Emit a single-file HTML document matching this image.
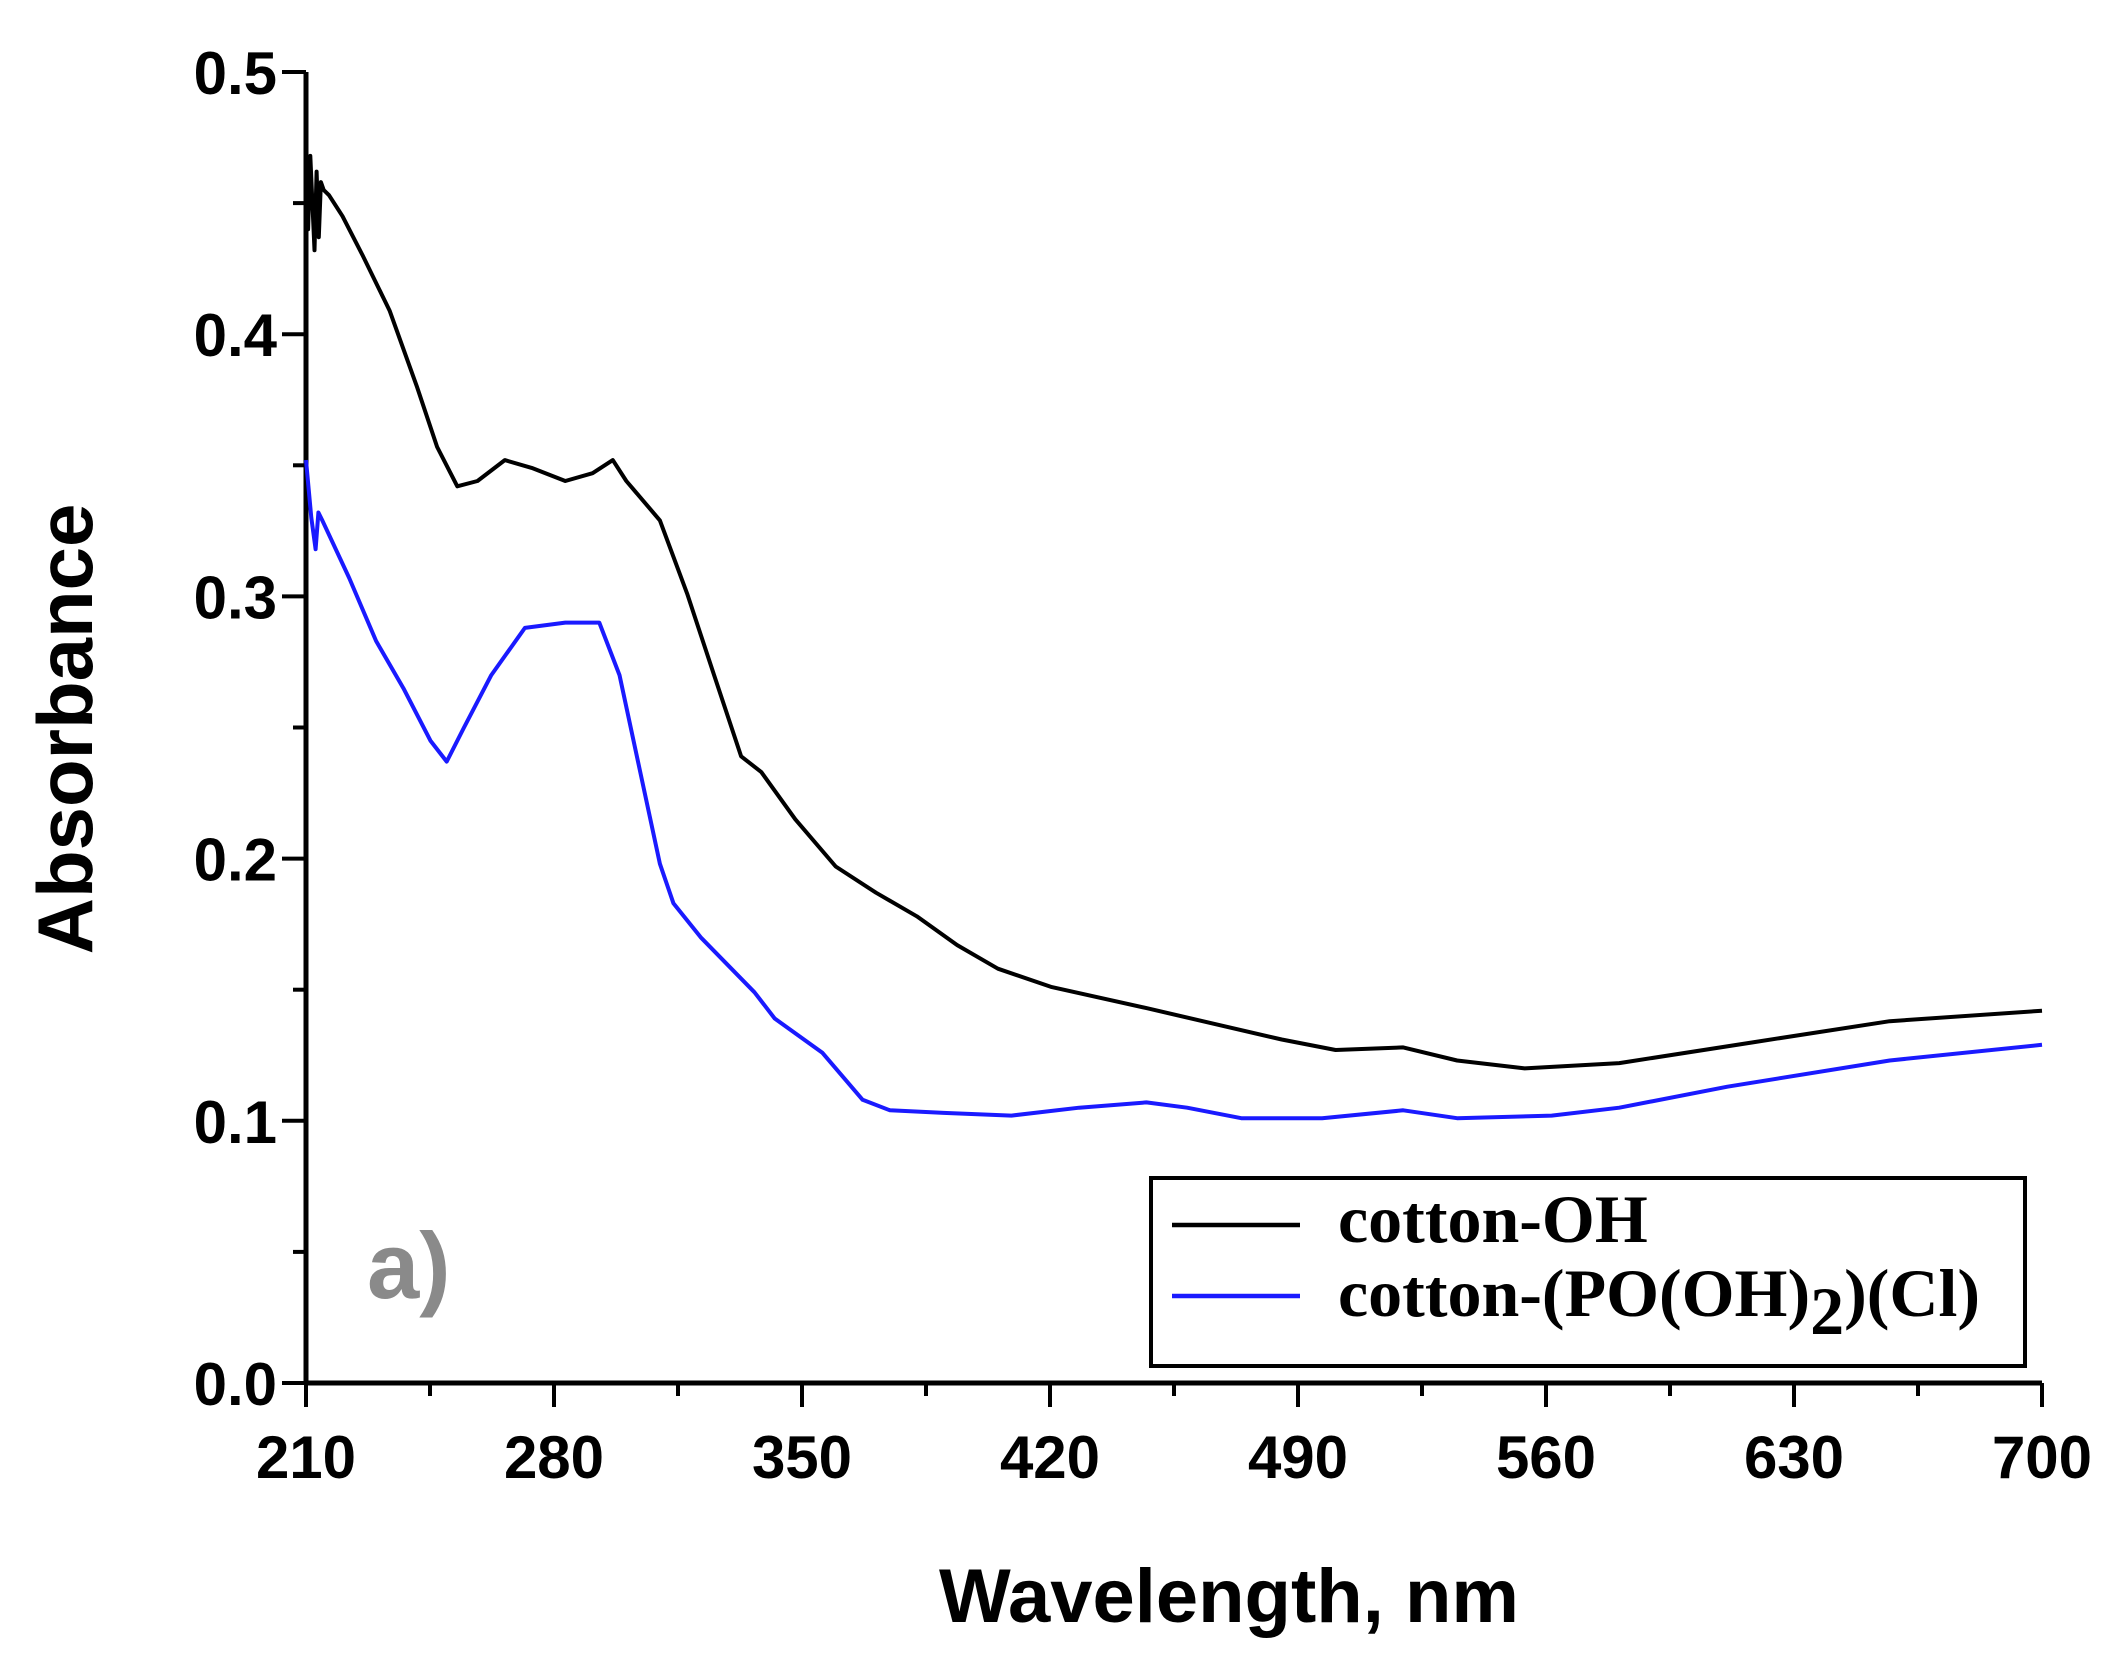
<!DOCTYPE html>
<html><head><meta charset="utf-8"><style>
body{margin:0;background:#fff;}
svg{display:block;}
</style></head><body>
<svg id="chart" width="2117" height="1666" xmlns="http://www.w3.org/2000/svg">
<g id="axes"></g>
<g id="series"></g>
<text transform="translate(92,729) rotate(-90)" text-anchor="middle" font-family="Liberation Sans, sans-serif" font-weight="bold" font-size="78">Absorbance</text>
<text x="1229" y="1622" text-anchor="middle" font-family="Liberation Sans, sans-serif" font-weight="bold" font-size="76">Wavelength, nm</text>
<text x="367" y="1298" font-family="Liberation Sans, sans-serif" font-weight="bold" font-size="94" fill="#8a8a8a">a)</text>
<g>
<rect x="1151" y="1178" width="874" height="188" fill="#fff" stroke="#000" stroke-width="4"/>
<line x1="1172" y1="1225" x2="1300" y2="1225" stroke="#000" stroke-width="4.5"/>
<text x="1338" y="1242" font-family="Liberation Serif, serif" font-weight="bold" font-size="68">cotton-OH</text>
<line x1="1172" y1="1296" x2="1300" y2="1296" stroke="#1a1aff" stroke-width="4.5"/>
<text x="1338" y="1316" font-family="Liberation Serif, serif" font-weight="bold" font-size="68">cotton-(PO(OH)<tspan dy="18">2</tspan><tspan dy="-18">)(Cl)</tspan></text>
</g>
</svg>
<script>
const xTicks=[210,280,350,420,490,560,630,700];
const yTicks=[0.0,0.1,0.2,0.3,0.4,0.5];
const blackNm=[210,210.6,211.2,211.8,212.4,213,213.6,214.2,215,216.5,220.3,226,233.6,241.3,247,252.7,258.4,266.1,273.7,283.2,290.9,296.6,300.4,309.9,317.6,325.2,332.8,338.5,348.1,359.5,370.9,382.4,393.8,405.3,420.5,447.2,466.3,485.4,500.6,519.7,534.9,554,580.7,618.8,657,700];
const blackAbs=[0.47,0.44,0.468,0.45,0.432,0.462,0.437,0.458,0.455,0.453,0.445,0.43,0.409,0.38,0.357,0.342,0.344,0.352,0.349,0.344,0.347,0.352,0.344,0.329,0.301,0.27,0.239,0.233,0.215,0.197,0.187,0.178,0.167,0.158,0.151,0.143,0.137,0.131,0.127,0.128,0.123,0.12,0.122,0.13,0.138,0.142];
const blueNm=[210,211.5,212.7,213.5,214.6,222.2,229.8,237.5,245.1,249.7,254.6,262.3,271.8,283.2,292.8,298.5,304.2,309.9,313.7,321.4,336.6,342.3,355.7,367.1,374.8,390,409.1,428.2,447.2,458.7,474,496.8,519.7,534.9,561.6,580.7,611.2,657,700];
const blueAbs=[0.352,0.33,0.318,0.332,0.329,0.307,0.283,0.265,0.245,0.237,0.25,0.27,0.288,0.29,0.29,0.27,0.234,0.198,0.183,0.17,0.149,0.139,0.126,0.108,0.104,0.103,0.102,0.105,0.107,0.105,0.101,0.101,0.104,0.101,0.102,0.105,0.113,0.123,0.129];

const X0=306,X1=2042,Y0=1383,Y1=72;
const sx=v=>X0+(v-210)/(700-210)*(X1-X0);
const sy=v=>Y0-(v-0)/(0.5-0)*(Y0-Y1);
const NS='http://www.w3.org/2000/svg';
const axes=document.getElementById('axes');
const series=document.getElementById('series');
function mk(tag,attrs,parent){const e=document.createElementNS(NS,tag);for(const k in attrs)e.setAttribute(k,attrs[k]);parent.appendChild(e);return e;}

let l=mk('line',{x1:X0,y1:Y0,x2:X1,y2:Y0,stroke:'#000','stroke-width':5},axes);


l=mk('line',{x1:X0,y1:Y0+2,x2:X0,y2:Y1,stroke:'#000','stroke-width':5},axes);



xTicks.forEach((t,i)=>{
  const x=sx(t);
  let tk=mk('line',{x1:x,y1:Y0,x2:x,y2:Y0+24,stroke:'#000','stroke-width':4},axes);
  
  
  let tx=mk('text',{x:x,y:1478,'text-anchor':'middle','font-family':'Liberation Sans, sans-serif','font-weight':'bold','font-size':60},axes);
  tx.textContent=t;
  
  
  if(i<xTicks.length-1){
    const mx=sx(t+35);
    let mt=mk('line',{x1:mx,y1:Y0,x2:mx,y2:Y0+13,stroke:'#000','stroke-width':4},axes);
    
    
  }
});
yTicks.forEach((t,i)=>{
  const y=sy(t);
  let tk=mk('line',{x1:X0-24,y1:y,x2:X0,y2:y,stroke:'#000','stroke-width':4},axes);
  
  
  let tx=mk('text',{x:277,y:y+22,'text-anchor':'end','font-family':'Liberation Sans, sans-serif','font-weight':'bold','font-size':60},axes);
  tx.textContent=t.toFixed(1);
  
  
  if(i<yTicks.length-1){
    const my=sy(t+0.05);
    let mt=mk('line',{x1:X0-13,y1:my,x2:X0,y2:my,stroke:'#000','stroke-width':4},axes);
    
    
  }
});
function path(xs,ys){return xs.map((v,i)=>(i?'L':'M')+sx(v).toFixed(1)+','+sy(ys[i]).toFixed(1)).join(' ');}
let p=mk('path',{d:path(blackNm,blackAbs),fill:'none',stroke:'#000','stroke-width':4,'stroke-linejoin':'round'},series);


p=mk('path',{d:path(blueNm,blueAbs),fill:'none',stroke:'#1a1aff','stroke-width':4,'stroke-linejoin':'round'},series);


</script>
</body></html>
